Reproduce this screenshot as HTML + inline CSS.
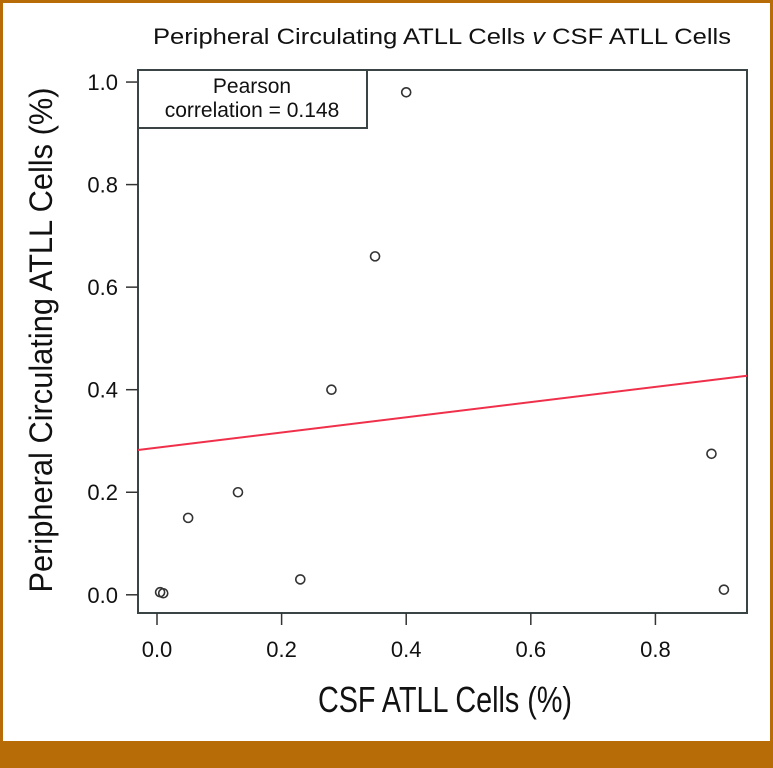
<!DOCTYPE html>
<html><head><meta charset="utf-8"><style>
html,body{margin:0;padding:0;background:#fff}
svg{display:block}
text{font-family:"Liberation Sans Narrow","Liberation Sans",sans-serif;fill:#111}
</style></head><body>
<svg id="chart" width="773" height="768" xmlns="http://www.w3.org/2000/svg">
<rect x="0" y="0" width="773" height="768" fill="#b86c08"/>
<rect x="3" y="3" width="767" height="738" fill="#fff"/>
<text x="442" y="44" font-size="22" text-anchor="middle" textLength="578" lengthAdjust="spacingAndGlyphs">Peripheral Circulating ATLL Cells <tspan font-style="italic">v</tspan> CSF ATLL Cells</text>
<g id="plot"></g>
<text x="445" y="712" font-size="36" text-anchor="middle" textLength="254" lengthAdjust="spacingAndGlyphs">CSF ATLL Cells (%)</text>
<text transform="translate(52,340) rotate(-90)" font-size="32" text-anchor="middle" textLength="505" lengthAdjust="spacingAndGlyphs">Peripheral Circulating ATLL Cells (%)</text>
</svg>
<script>
const csfValues=[0.40,0.35,0.28,0.13,0.05,0.23,0.005,0.01,0.89,0.91];
const pbValues=[0.98,0.66,0.40,0.20,0.15,0.03,0.005,0.003,0.275,0.01];
const xTicks=[0,0.2,0.4,0.6,0.8];
const xTickLabels=["0.0","0.2","0.4","0.6","0.8"];
const yTicks=[0,0.2,0.4,0.6,0.8,1.0];
const yTickLabels=["0.0","0.2","0.4","0.6","0.8","1.0"];
const fitIntercept=[0.287];
const fitSlope=[0.148];
const xDomain=[-0.0305,0.947];
const yDomain=[-0.0355,1.0235];

const L=138,R=747,T=70,B=613;
const NS="http://www.w3.org/2000/svg";
function sx(v){return L+(v-xDomain[0])/(xDomain[1]-xDomain[0])*(R-L);}
function sy(v){return B-(v-yDomain[0])/(yDomain[1]-yDomain[0])*(B-T);}
const g=document.getElementById('plot');
function mk(tag,attrs){const e=document.createElementNS(NS,tag);for(const k in attrs)e.setAttribute(k,attrs[k]);g.appendChild(e);return e;}

const box=mk('rect',{x:L,y:T,width:R-L,height:B-T,fill:'none',stroke:'#3a4444','stroke-width':2});



xTicks.forEach((v,i)=>{
  const t=mk('line',{x1:sx(v),x2:sx(v),y1:B,y2:B+12,stroke:'#333','stroke-width':1.5});
  
  
  const l=mk('text',{x:sx(v),y:657,'font-size':22,'text-anchor':'middle'});
  l.textContent=xTickLabels[i];
  
  
});
yTicks.forEach((v,i)=>{
  const t=mk('line',{x1:L-12,x2:L,y1:sy(v),y2:sy(v),stroke:'#333','stroke-width':1.5});
  
  
  const l=mk('text',{x:L-20,y:sy(v)+8,'font-size':22,'text-anchor':'end'});
  l.textContent=yTickLabels[i];
  
  
});

const fit=mk('line',{x1:L,y1:sy(fitIntercept[0]+fitSlope[0]*xDomain[0]),x2:R,y2:sy(fitIntercept[0]+fitSlope[0]*xDomain[1]),stroke:'#f0304a','stroke-width':2});



csfValues.forEach((v,i)=>{
  const c=mk('circle',{cx:sx(v),cy:sy(pbValues[i]),r:4.5,fill:'none',stroke:'#333','stroke-width':1.6});
  
  
});

const lg=mk('rect',{x:L,y:T,width:229,height:58,fill:'#fff',stroke:'#3a4444','stroke-width':2});


const t1=mk('text',{x:L+114,y:93,'font-size':21,'text-anchor':'middle'});
t1.textContent='Pearson';


const t2=mk('text',{x:L+114,y:117,'font-size':21,'text-anchor':'middle'});
t2.textContent='correlation = 0.148';


</script>
</body></html>
